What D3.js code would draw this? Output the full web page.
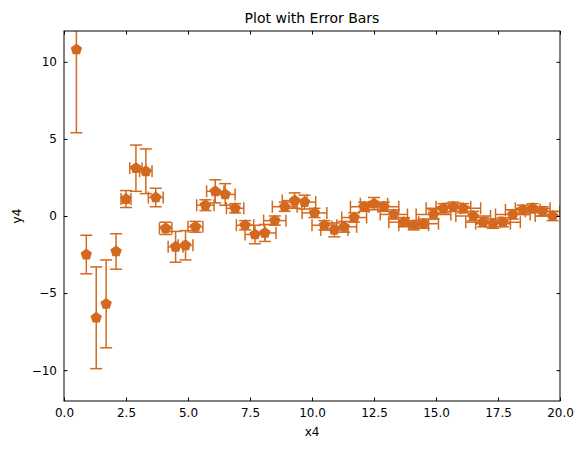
<!DOCTYPE html><html><head><script src="https://cdn.jsdelivr.net/npm/d3@7"></script>
<style>body{margin:0;background:#fff}text{font-family:"DejaVu Sans",sans-serif}</style></head><body><svg id="c" width="585" height="449"></svg>
<script>
const xs=[0.5,0.9,1.3,1.7,2.1,2.5,2.9,3.3,3.7,4.1,4.5,4.9,5.3,5.7,6.1,6.5,6.9,7.3,7.7,8.1,8.5,8.9,9.3,9.7,10.1,10.5,10.9,11.3,11.7,12.1,12.5,12.9,13.3,13.7,14.1,14.5,14.9,15.3,15.7,16.1,16.5,16.9,17.3,17.7,18.1,18.5,18.9,19.3,19.7];
const ys=[10.8,-2.5,-6.6,-5.7,-2.3,1.1,3.1,2.9,1.2,-0.8,-2.0,-1.9,-0.7,0.7,1.6,1.4,0.5,-0.6,-1.2,-1.1,-0.3,0.6,1.0,0.9,0.2,-0.6,-0.9,-0.7,-0.1,0.6,0.8,0.6,0.1,-0.4,-0.6,-0.5,0.1,0.5,0.6,0.5,0.0,-0.4,-0.5,-0.4,0.1,0.4,0.5,0.3,0.0];
const yerr=[5.4,1.25,3.3,2.85,1.15,0.55,1.5,1.45,0.6,0.4,1.0,0.95,0.35,0.35,0.75,0.7,0.3,0.3,0.6,0.55,0.3,0.3,0.5,0.45,0.3,0.3,0.45,0.35,0.3,0.3,0.4,0.3,0.3,0.3,0.3,0.3,0.3,0.3,0.3,0.3,0.3,0.3,0.3,0.3,0.3,0.3,0.3,0.3,0.3];
const xerr=[0,0,0,0,0,0.2,0.25,0.25,0.3,0.25,0.3,0.3,0.3,0.35,0.35,0.4,0.35,0.35,0.4,0.45,0.45,0.5,0.5,0.45,0.5,0.5,0.55,0.5,0.5,0.55,0.55,0.6,0.55,0.6,0.6,0.6,0.7,0.7,0.7,0.7,0.7,0.7,0.7,0.7,0.7,0.7,0.7,0.7,0.7];
const xTicks=[0,2.5,5,7.5,10,12.5,15,17.5,20], yTicks=[-10,-5,0,5,10];
const col="#d2691e";
const svg=d3.select("#c");
const L=64,R=560,T=31,B=401;
const x=d3.scaleLinear().domain([0,20]).range([L,R]);
const y=d3.scaleLinear().domain([-12,12]).range([B,T]);
const defs=svg.append("defs");defs.append("clipPath").attr("id","cp").append("rect").attr("x",L).attr("y",T).attr("width",R-L).attr("height",B-T);
const g=svg.append("g").attr("clip-path","url(#cp)");
const data=xs.map((v,i)=>({x:v,y:ys[i],ye:yerr[i],xe:xerr[i]}));
data.forEach(d=>{
  const e=g.append("g").attr("stroke",col).attr("stroke-width",1.5);
  e.append("line").attr("x1",x(d.x)).attr("x2",x(d.x)).attr("y1",y(d.y-d.ye)).attr("y2",y(d.y+d.ye));
  [d.y-d.ye,d.y+d.ye].forEach(v=>e.append("line").attr("x1",x(d.x)-6).attr("x2",x(d.x)+6).attr("y1",y(v)).attr("y2",y(v)));
  if(d.xe>0){
    e.append("line").attr("x1",x(d.x-d.xe)).attr("x2",x(d.x+d.xe)).attr("y1",y(d.y)).attr("y2",y(d.y));
    [d.x-d.xe,d.x+d.xe].forEach(v=>e.append("line").attr("x1",x(v)).attr("x2",x(v)).attr("y1",y(d.y)-6).attr("y2",y(d.y)+6));
  }
});
const pent=d3.range(5).map(k=>{const a=-Math.PI/2+k*2*Math.PI/5;return [6*Math.cos(a),6*Math.sin(a)];});
g.selectAll("polygon").data(data).join("polygon").attr("points",d=>pent.map(p=>[x(d.x)+p[0],y(d.y)+p[1]].join(",")).join(" ")).attr("fill",col);
const ax=svg.append("g").attr("transform",`translate(0,${B})`).call(d3.axisBottom(x).tickValues(xTicks).tickFormat(d3.format(".1f")).tickSizeInner(-3.5).tickSizeOuter(0).tickPadding(7));
const axT=svg.append("g").attr("transform",`translate(0,${T})`).call(d3.axisTop(x).tickValues(xTicks).tickFormat("").tickSizeInner(-3.5).tickSizeOuter(0));
const ay=svg.append("g").attr("transform",`translate(${L},0)`).call(d3.axisLeft(y).tickValues(yTicks).tickFormat(d=>d<0?"\u2212"+(-d):d).tickSizeInner(-3.5).tickSizeOuter(0).tickPadding(7));
const ayR=svg.append("g").attr("transform",`translate(${R},0)`).call(d3.axisRight(y).tickValues(yTicks).tickFormat("").tickSizeInner(-3.5).tickSizeOuter(0));
[ax,axT,ay,ayR].forEach(a=>{a.select(".domain").remove();a.selectAll("text").attr("font-size",12).attr("fill","#000");a.selectAll("line").attr("stroke","#000");});
svg.append("rect").attr("x",L).attr("y",T).attr("width",R-L).attr("height",B-T).attr("fill","none").attr("stroke","#000").attr("stroke-width",1);
svg.append("text").attr("x",(L+R)/2).attr("y",T-8).attr("text-anchor","middle").attr("font-size",14).text("Plot with Error Bars");
svg.append("text").attr("x",(L+R)/2).attr("y",436).attr("text-anchor","middle").attr("font-size",12).text("x4");
svg.append("text").attr("transform",`translate(21,${(T+B)/2}) rotate(-90)`).attr("text-anchor","middle").attr("font-size",12).text("y4");
</script></body></html>
